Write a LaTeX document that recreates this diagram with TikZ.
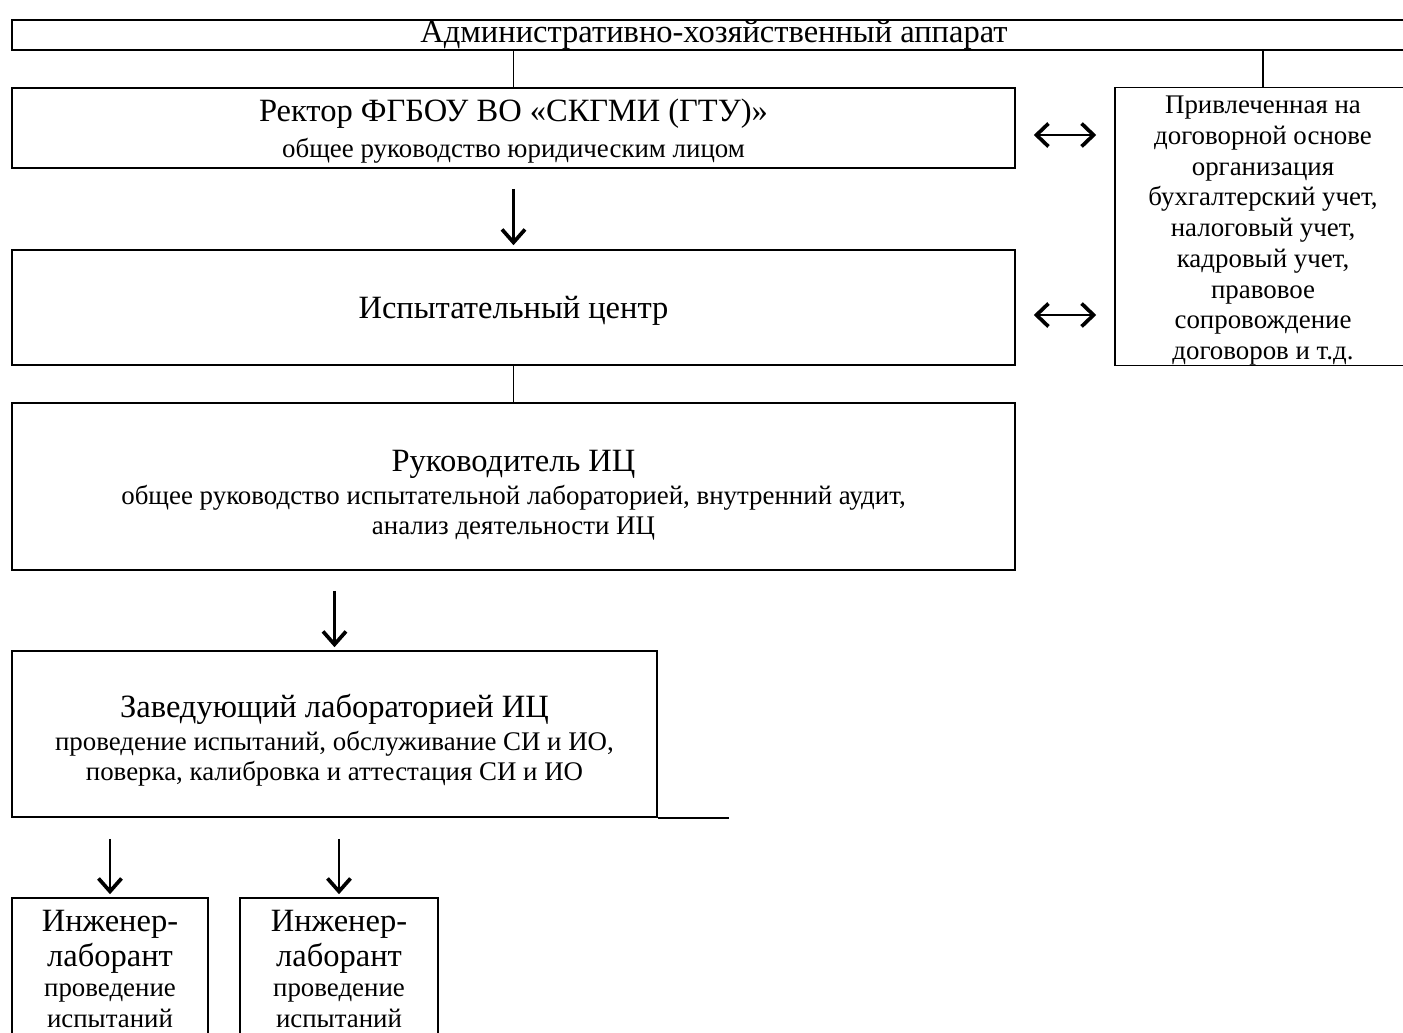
\documentclass[tikz,border=0pt]{standalone}
\usepackage{fontspec}
\setmainfont{Liberation Serif}
\usetikzlibrary{arrows.meta}

\newcommand{\headf}{\fontsize{18.5}{21.6}\selectfont}
\newcommand{\notef}{\fontsize{15.3}{17.5}\selectfont}
\newcommand{\topgap}[1]{\rule{0pt}{#1}}

\begin{document}
\begin{tikzpicture}[
    box/.style={draw, line width=0.9pt, align=center, inner sep=0pt, font=\notef},
    link/.style={line width=0.9pt},
    pointer/.style={line width=1.4pt, -{Straight Barb[length=0.26cm, width=0.46cm, line width=2.1pt]}},
    twoway/.style={line width=1.4pt, {Straight Barb[length=0.24cm, width=0.46cm, line width=2.1pt]}-{Straight Barb[length=0.24cm, width=0.46cm, line width=2.1pt]}},
]
        \useasboundingbox (0,0) rectangle (28.06,-20.64);
        \clip (0,0) rectangle (28.06,-20.64);

        % boxes
        \node[box, minimum width=28.08cm, minimum height=0.6cm] (admin) at (14.28,-0.70) {\headf Административно-хозяйственный аппарат};
        \node[box, minimum width=20.06cm, minimum height=1.6cm] (rector) at (10.27,-2.56)
            {\headf\topgap{0.58cm}Ректор ФГБОУ ВО «СКГМИ (ГТУ)»\\[3pt] общее руководство юридическим лицом};
        \node[box, minimum width=5.92cm, minimum height=5.54cm] (outsrc) at (25.26,-4.53)
            {\topgap{0.52cm}Привлеченная на\\ договорной основе\\ организация\\ бухгалтерский учет,\\ налоговый учет,\\ кадровый учет,\\ правовое\\ сопровождение\\ договоров и т.д.};
        \node[box, minimum width=20.06cm, minimum height=2.3cm] (center) at (10.27,-6.15)
            {\headf\topgap{0.56cm}Испытательный центр};
        \node[box, minimum width=20.06cm, minimum height=3.34cm] (head) at (10.27,-9.73)
            {\headf\topgap{0.78cm}Руководитель ИЦ\\[1pt] общее руководство испытательной лабораторией, внутренний аудит,\\ анализ деятельности ИЦ};
        \node[box, minimum width=12.9cm, minimum height=3.32cm] (labhead) at (6.69,-14.68)
            {\headf\topgap{0.72cm}Заведующий лабораторией ИЦ\\[1pt] проведение испытаний, обслуживание СИ и ИО,\\ поверка, калибровка и аттестация СИ и ИО};
        \node[box, minimum width=3.92cm, minimum height=2.84cm] (eng1) at (2.20,-19.38)
            {\headf\topgap{0.42cm}Инженер-\\[2.3pt] \headf лаборант\\ проведение\\ испытаний};
        \node[box, minimum width=3.96cm, minimum height=2.84cm] (eng2) at (6.78,-19.38)
            {\headf\topgap{0.42cm}Инженер-\\[2.3pt] \headf лаборант\\ проведение\\ испытаний};
        \coordinate (labtail) at ([xshift=1.42cm]labhead.south east);

        % links
        \draw[link] (rector.north |- admin.south) -- (rector.north);
        \draw[link] (outsrc.north |- admin.south) -- (outsrc.north);
        \draw[link] (center.south) -- (head.north);
        \draw[link] (labhead.south east) -- (labtail);

        % arrows
        \draw[pointer, shorten <=0.4cm, shorten >=0.08cm] (rector.south) -- (center.north);
        \draw[pointer, shorten <=0.4cm, shorten >=0.06cm] (labhead.north |- head.south) -- (labhead.north);
        \draw[pointer, shorten <=0.42cm, shorten >=0.06cm] (eng1.north |- labhead.south) -- (eng1.north);
        \draw[pointer, shorten <=0.42cm, shorten >=0.06cm] (eng2.north |- labhead.south) -- (eng2.north);
        \draw[twoway, shorten <=0.36cm, shorten >=0.36cm] ([yshift=-0.14cm]rector.east) -- ([yshift=-0.14cm]rector.east -| outsrc.west);
        \draw[twoway, shorten <=0.36cm, shorten >=0.36cm] ([yshift=-0.15cm]center.east) -- ([yshift=-0.15cm]center.east -| outsrc.west);

    \end{tikzpicture}
\end{document}
